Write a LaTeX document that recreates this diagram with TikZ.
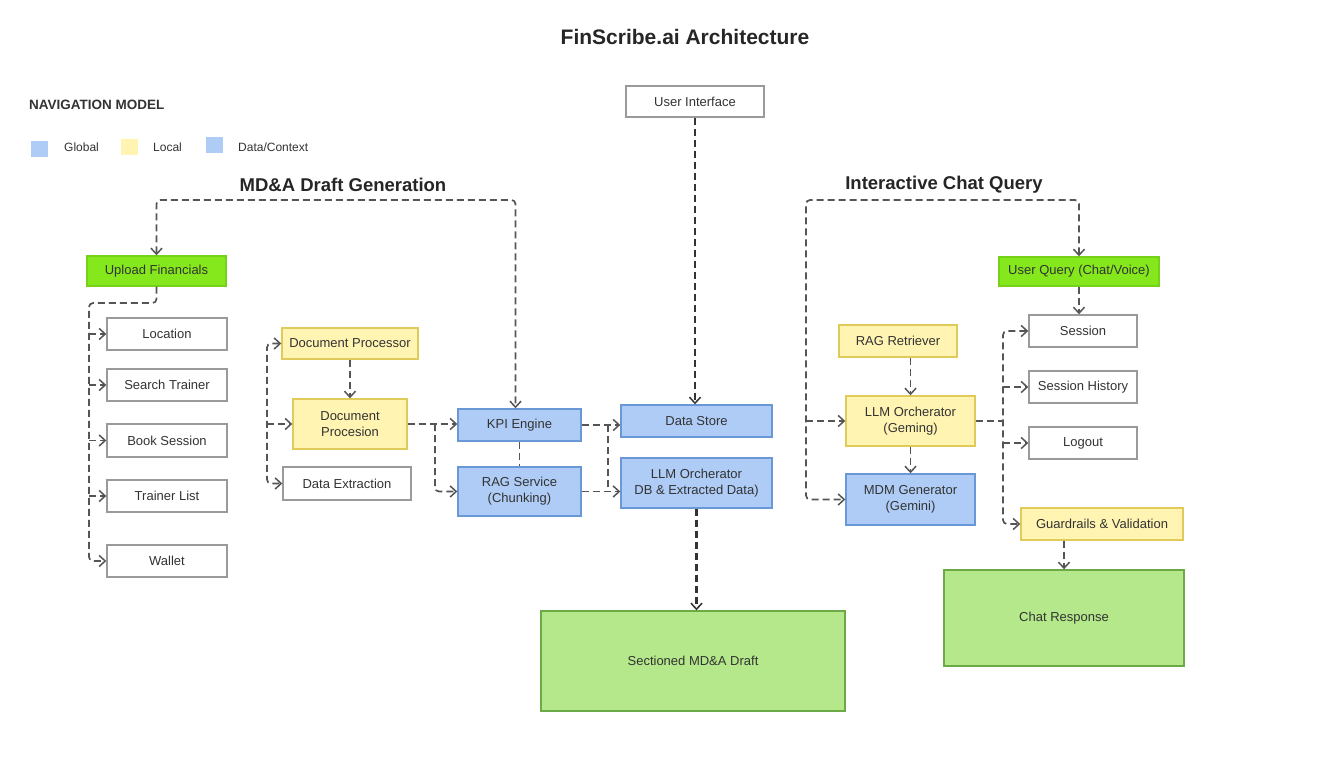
\documentclass[tikz,border=0pt]{standalone}
\usepackage{fontspec}
\setmainfont{Liberation Sans}
\usetikzlibrary{arrows.meta}
\definecolor{txt}{HTML}{333333}
\definecolor{lnc}{HTML}{555555}
\definecolor{gbright}{HTML}{84E81C}
\definecolor{glight}{HTML}{B4E88A}
\definecolor{glightb}{HTML}{6CAA48}
\definecolor{bfill}{HTML}{AECCF6}
\definecolor{bdraw}{HTML}{6A98D6}
\definecolor{yfill}{HTML}{FFF4B2}
\definecolor{ydraw}{HTML}{E0CA5A}
\definecolor{wdraw}{HTML}{9A9A9A}
\tikzset{
  box/.style={rectangle, inner sep=0pt, align=center, text=txt, line width=1.4pt,
    font=\fontsize{13}{16}\selectfont},
  wbox/.style={box, draw=wdraw, fill=white},
  ybox/.style={box, draw=ydraw, fill=yfill},
  bbox/.style={box, draw=bdraw, fill=bfill},
  gbox/.style={box, draw=gbright!90!black, fill=gbright},
  lgbox/.style={box, draw=glightb, fill=glight},
  conn/.style={draw=lnc, line width=1.7pt, dash pattern=on 7pt off 4pt, rounded corners=4pt},
  arr/.style={conn, -{Straight Barb[length=6pt,width=11pt,line width=1.5pt]}},
  darr/.style={conn, {Straight Barb[length=6pt,width=11pt,line width=1.5pt]}-{Straight Barb[length=6pt,width=11pt,line width=1.5pt]}},
  strong/.style={draw=black!80, line width=2.2pt},
  leg/.style={rectangle, minimum width=17pt, minimum height=16pt, inner sep=0pt},
  legt/.style={text=txt, anchor=west, font=\fontsize{12}{14}\selectfont, inner sep=0pt},
  sect/.style={text=black!85, font=\bfseries\fontsize{18.5}{22}\selectfont, inner sep=0pt}
}
\begin{document}
\begin{tikzpicture}[x=1pt,y=-1pt]
\useasboundingbox[fill=white] (0,0) rectangle (1344,768);
% titles
\node[sect, font=\bfseries\fontsize{21}{24}\selectfont] (title) at (685,37) {FinScribe.ai Architecture};
\node[text=txt, anchor=west, inner sep=0pt, font=\bfseries\fontsize{13.5}{16}\selectfont] (navt) at (29,105) {NAVIGATION MODEL};
\node[leg, fill=bfill] (lg1) at (39.5,149) {};
\node[legt] (lg1t) at (64,147) {Global};
\node[leg, fill=yfill] (lg2) at (129.5,146.5) {};
\node[legt] (lg2t) at (153,147) {Local};
\node[leg, fill=bfill] (lg3) at (214.5,145) {};
\node[legt] (lg3t) at (238,147) {Data/Context};
\node[sect] (secl) at (343,185) {MD\&A Draft Generation};
\node[sect] (secr) at (944,185) {Interactive Chat Query};

% top
\node[wbox, minimum width=138pt, minimum height=31pt] (ui) at (695,101.5) {User Interface};

% left section
\node[gbox, minimum width=139pt, minimum height=30pt] (upload) at (156.5,271) {Upload Financials};
\node[wbox, minimum width=120pt, minimum height=32pt] (loc) at (167,334) {Location};
\node[wbox, minimum width=120pt, minimum height=32pt] (search) at (167,385) {Search Trainer};
\node[wbox, minimum width=120pt, minimum height=33pt] (book) at (167,440.5) {Book Session};
\node[wbox, minimum width=120pt, minimum height=32pt] (tlist) at (167,496) {Trainer List};
\node[wbox, minimum width=120pt, minimum height=32pt] (wallet) at (167,561) {Wallet};

\node[ybox, minimum width=136pt, minimum height=31pt] (docproc) at (350,343.5) {Document Processor};
\node[ybox, minimum width=114pt, minimum height=50pt] (docpro2) at (350,424) {Document\\Procesion};
\node[wbox, minimum width=128pt, minimum height=33pt] (dataext) at (347,483.5) {Data Extraction};

\node[bbox, minimum width=123pt, minimum height=32pt] (kpi) at (519.5,425) {KPI Engine};
\node[bbox, minimum width=123pt, minimum height=49pt] (rag) at (519.5,491.5) {RAG Service\\(Chunking)};
\node[bbox, minimum width=151pt, minimum height=32pt] (dstore) at (696.5,421) {Data Store};
\node[bbox, minimum width=151pt, minimum height=50pt] (llm) at (696.5,483) {LLM Orcherator\\DB \& Extracted Data)};
\node[lgbox, minimum width=304pt, minimum height=100pt] (draft) at (693,661) {Sectioned MD\&A Draft};

% right section
\node[gbox, minimum width=160pt, minimum height=29pt] (uq) at (1079,271.5) {User Query (Chat/Voice)};
\node[wbox, minimum width=108pt, minimum height=32pt] (session) at (1083,331) {Session};
\node[wbox, minimum width=108pt, minimum height=32pt] (shist) at (1083,387) {Session History};
\node[wbox, minimum width=108pt, minimum height=32pt] (logout) at (1083,443) {Logout};
\node[ybox, minimum width=118pt, minimum height=32pt] (ragr) at (898,341) {RAG Retriever};
\node[ybox, minimum width=129pt, minimum height=50pt] (llm2) at (910.5,421) {LLM Orcherator\\(Geming)};
\node[bbox, minimum width=129pt, minimum height=51pt] (mdm) at (910.5,499.5) {MDM Generator\\(Gemini)};
\node[ybox, minimum width=162pt, minimum height=32pt] (guard) at (1102,524) {Guardrails \& Validation};
\node[lgbox, minimum width=240pt, minimum height=96pt] (chat) at (1064,618) {Chat Response};

% bus coordinates
\coordinate (ltop) at (0,200);
\coordinate (ubus) at (89,303);
\coordinate (dbus) at (267,414);
\coordinate (kbus) at (435,424);
\coordinate (sbus) at (608,0);
\coordinate (rtop) at (806,200);
\coordinate (cbus) at (1003,430);

% connectors
\draw[arr, strong] (ui.south) -- (ui.south |- dstore.north);
\draw[darr] (upload.north) -- (upload.north |- ltop) -| ([xshift=-4pt]kpi.north);
\draw[arr] (upload.south) |- (ubus) |- (wallet.west);
\draw[arr] (loc.west -| ubus) -- (loc.west);
\draw[arr] (search.west -| ubus) -- (search.west);
\draw[arr] (book.west -| ubus) -- (book.west);
\draw[arr] (tlist.west -| ubus) -- (tlist.west);

\draw[darr] (docproc.west) -| (dbus) |- (dataext.west);
\draw[arr] (docpro2.west -| dbus) -- (docpro2.west);
\draw[arr] (docproc.south) -- (docpro2.north);
\draw[arr] (docpro2.east) -- (docpro2.east -| kpi.west);
\draw[arr] (kbus) |- (rag.west);
\draw[conn] (kpi.south) -- (rag.north);
\draw[arr] (kpi.east) -- (kpi.east -| dstore.west);
\draw[arr] (rag.east) -- (rag.east -| llm.west);
\draw[conn] (kpi.east -| sbus) -- (rag.east -| sbus);
\draw[arr, strong] (llm.south) -- (llm.south |- draft.north);

\draw[darr] (uq.north) |- (rtop) |- (mdm.west);
\draw[arr] (llm2.west -| rtop) -- (llm2.west);
\draw[arr] (uq.south) -- (uq.south |- session.north);
\draw[arr] (llm2.north |- ragr.south) -- (llm2.north);
\draw[arr] (llm2.south) -- (mdm.north);
\draw[conn] (llm2.east) -- (llm2.east -| cbus);
\draw[darr] (session.west) -| (cbus) |- (guard.west);
\draw[arr] (shist.west -| cbus) -- (shist.west);
\draw[arr] (logout.west -| cbus) -- (logout.west);
\draw[arr] (chat.north |- guard.south) -- (chat.north);
\end{tikzpicture}
\end{document}
